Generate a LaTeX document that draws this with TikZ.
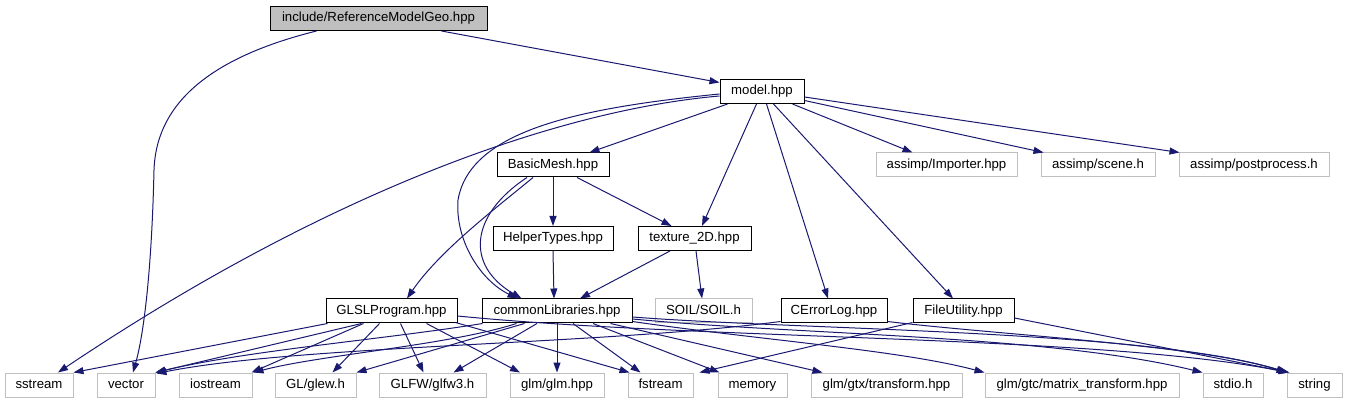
\documentclass[tikz,border=0pt]{standalone}
\usepackage{fontspec}
\setmainfont{Liberation Sans}
\usetikzlibrary{arrows.meta,calc}
\definecolor{edgeblue}{RGB}{25,25,112}
\definecolor{leafgray}{RGB}{191,191,191}
\begin{document}
\begin{tikzpicture}[x=1pt,y=-1pt,
  box/.style={draw=black, fill=white, line width=1pt, inner sep=0pt, minimum height=24pt,
    font=\fontsize{13.2}{15}\selectfont, text height=9.6pt, text depth=2.8pt},
  leaf/.style={box, draw=leafgray},
  rootbox/.style={box, fill=leafgray},
  edge/.style={draw=edgeblue, line width=1pt, -{Triangle[length=10pt,width=7pt]}}
]
\useasboundingbox (0,0) rectangle (1347,403);
% nodes
\node[rootbox, minimum width=217pt] (root) at (378.5,18.5) {include/ReferenceModelGeo.hpp};
\node[box, minimum width=84pt] (model) at (762,91.5) {model.hpp};
\node[box, minimum width=112pt] (basic) at (553,165) {BasicMesh.hpp};
\node[leaf, minimum width=141pt] (importer) at (946.5,165) {assimp/Importer.hpp};
\node[leaf, minimum width=114pt] (scene) at (1098,165) {assimp/scene.h};
\node[leaf, minimum width=150pt] (post) at (1254,165) {assimp/postprocess.h};
\node[box, minimum width=120pt] (helper) at (553,238.5) {HelperTypes.hpp};
\node[box, minimum width=113pt] (tex) at (694.5,238.5) {texture\_2D.hpp};
\node[box, minimum width=131pt] (glsl) at (391.5,311) {GLSLProgram.hpp};
\node[box, minimum width=150pt] (common) at (557,311) {commonLibraries.hpp};
\node[leaf, minimum width=97pt] (soil) at (703.5,311) {SOIL/SOIL.h};
\node[box, minimum width=106pt] (cerr) at (834,311) {CErrorLog.hpp};
\node[box, minimum width=101pt] (fileu) at (963.5,311) {FileUtility.hpp};
\node[leaf, minimum width=68pt] (sstream) at (39,385) {sstream};
\node[leaf, minimum width=58pt] (vector) at (126,385) {vector};
\node[leaf, minimum width=73pt] (iostream) at (215.5,385) {iostream};
\node[leaf, minimum width=81pt] (glew) at (315.5,385) {GL/glew.h};
\node[leaf, minimum width=107pt] (glfw) at (432.5,385) {GLFW/glfw3.h};
\node[leaf, minimum width=94pt] (glm) at (557,385) {glm/glm.hpp};
\node[leaf, minimum width=65pt] (fstream) at (660.5,385) {fstream};
\node[leaf, minimum width=69pt] (memory) at (752.5,385) {memory};
\node[leaf, minimum width=151pt] (gtx) at (886.5,385) {glm/gtx/transform.hpp};
\node[leaf, minimum width=194pt] (gtc) at (1082,385) {glm/gtc/matrix\_transform.hpp};
\node[leaf, minimum width=60pt] (stdio) at (1233,385) {stdio.h};
\node[leaf, minimum width=55pt] (string) at (1314.5,385) {string};
% root edges
\draw[edge] ($(root.south west)+(172,0)$) -- ($(model.north west)+(0,3.5)$);
\draw[edge] ($(root.south west)+(47,0)$) .. controls (200,60) and (156,110) .. (154,170)
  .. controls (152,260) and (145,330) .. ($(vector.north)+(7,0)$);
% model edges
\draw[edge] ($(model.south west)+(8,0)$) -- ($(basic.north west)+(93,0)$);
\draw[edge] ($(model.west)+(0,4.5)$) .. controls (560,110) and (330,190) .. ($(sstream.north)+(19,0)$);
\draw[edge] ($(model.west)+(0,2.5)$) .. controls (580,108) and (470,130) .. (458,200)
  .. controls (455,240) and (480,280) .. ($(common.north west)+(36,0)$);
\draw[edge] ($(model.south west)+(37,0)$) -- ($(tex.north)+(7.5,0)$);
\draw[edge] ($(model.south west)+(47,0)$) -- ($(cerr.north)+(-6,0)$);
\draw[edge] ($(model.south west)+(54,0)$) -- ($(fileu.north)+(-10.5,0)$);
\draw[edge] ($(model.south west)+(73,0)$) -- ($(importer.north west)+(37,0)$);
\draw[edge] ($(model.east)+(0,9)$) -- ($(scene.north west)+(3,0)$);
\draw[edge] ($(model.east)+(0,5.5)$) -- ($(post.north west)+(1,0)$);
% BasicMesh edges
\draw[edge] (basic.south) -- (helper.north);
\draw[edge] ($(basic.south)+(24,0)$) -- ($(tex.north west)+(34,0)$);
\draw[edge] ($(basic.south)+(-20,0)$) .. controls (500,205) and (440,250) .. ($(glsl.north)+(15.5,0)$);
\draw[edge] ($(basic.south)+(-26,0)$) .. controls (470,215) and (465,265) .. ($(common.north west)+(40,0)$);
% HelperTypes / texture edges
\draw[edge] (helper.south) -- ($(common.north)+(-3,0)$);
\draw[edge] ($(tex.south)+(-24.5,0)$) -- ($(common.north)+(23,0)$);
\draw[edge] ($(tex.south)+(1.5,0)$) -- ($(soil.north)+(-1.5,0)$);
% GLSLProgram edges
\draw[edge] ($(glsl.south west)+(2,0)$) -- (sstream.north east);
\draw[edge] ($(glsl.south west)+(36,0)$) -- (vector.north east);
\draw[edge] ($(glsl.south west)+(38,0)$) -- ($(iostream.north east)+(-1,0)$);
\draw[edge] ($(glsl.south west)+(54,0)$) -- ($(glew.north)+(17,0)$);
\draw[edge] ($(glsl.south west)+(75,0)$) -- ($(glfw.north)+(-9,0)$);
\draw[edge] ($(glsl.south west)+(101,0)$) -- ($(glm.north)+(-37,0)$);
\draw[edge] ($(glsl.south east)+(-2,-1)$) -- ($(fstream.north west)+(2,0)$);
\draw[edge] ($(glsl.east)+(0,5)$) .. controls (700,340) and (1100,335) .. ($(string.north west)+(2,0)$);
% commonLibraries edges
\draw[edge] ($(common.south west)+(1,0)$) .. controls (380,340) and (250,350) .. (vector.north east);
\draw[edge] ($(common.south west)+(35,0)$) .. controls (450,345) and (320,355) .. ($(iostream.north east)+(1,0)$);
\draw[edge] ($(common.south west)+(43,0)$) -- (glew.north east);
\draw[edge] ($(common.south)+(-20,0)$) -- ($(glfw.north east)+(-33,0)$);
\draw[edge] (common.south) -- (glm.north);
\draw[edge] ($(common.south)+(16,0)$) -- ($(fstream.north)+(-20,0)$);
\draw[edge] ($(common.south)+(36,0)$) -- ($(memory.north west)+(2,0)$);
\draw[edge] ($(common.south east)+(-22,0)$) -- ($(gtx.north west)+(12,0)$);
\draw[edge] ($(common.south east)+(0,-2)$) .. controls (760,340) and (900,350) .. ($(gtc.north west)+(0,0)$);
\draw[edge] ($(common.east)+(0,8)$) .. controls (800,335) and (1050,335) .. ($(stdio.north west)+(0,0)$);
\draw[edge] ($(common.east)+(0,6)$) .. controls (800,330) and (1150,330) .. ($(string.north west)+(0,0)$);
% CErrorLog edges
\draw[edge] ($(cerr.south west)+(0,-2)$) .. controls (600,345) and (300,345) .. ($(vector.north east)+(1,1)$);
\draw[edge] ($(cerr.south east)+(0,-2)$) .. controls (1000,335) and (1200,345) .. ($(string.north west)+(1,0)$);
% FileUtility edges
\draw[edge] ($(fileu.south west)+(0,-1)$) -- ($(fstream.north east)+(6,0)$);
\draw[edge] ($(fileu.east)+(0,7)$) -- ($(string.north west)+(3,0)$);
\end{tikzpicture}
\end{document}
